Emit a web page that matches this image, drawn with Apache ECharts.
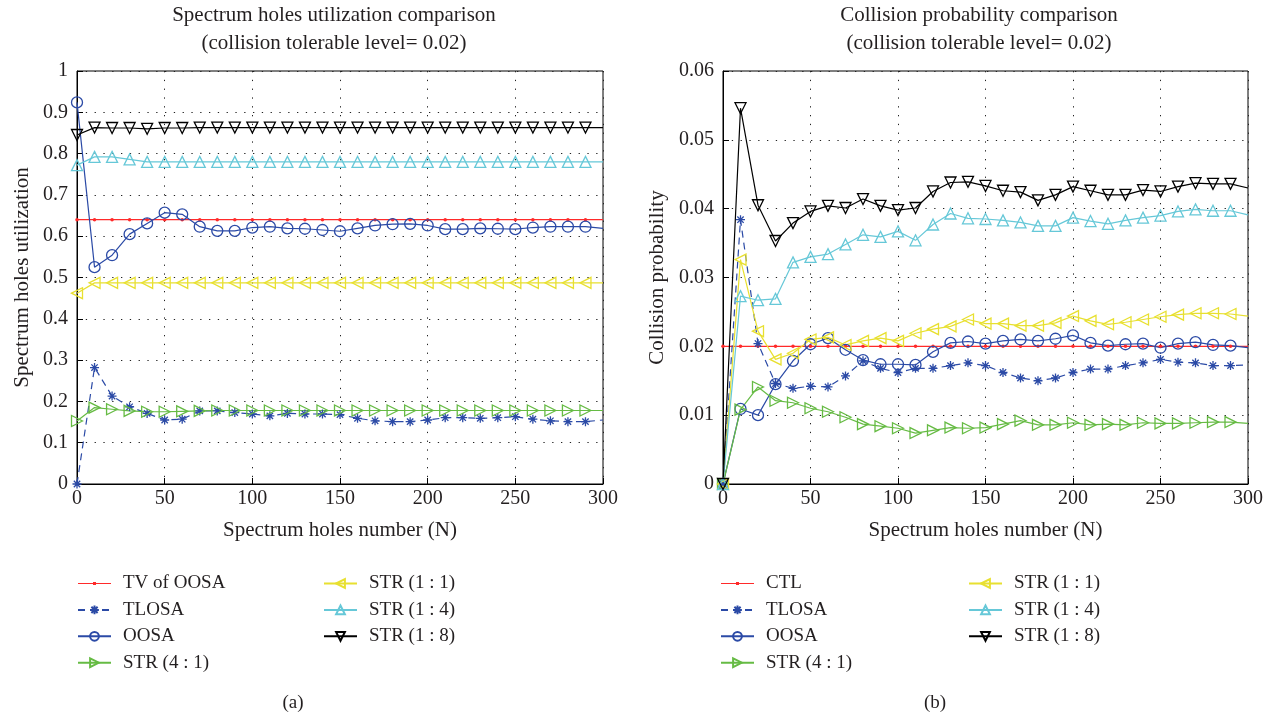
<!DOCTYPE html>
<html>
<head>
<meta charset="utf-8">
<script src="https://cdn.jsdelivr.net/npm/echarts@6/dist/echarts.min.js"></script>
<style>
html,body{margin:0;padding:0;background:#fff;}
#chart{width:1273px;height:717px;}
</style>
</head>
<body>
<div id="chart"></div>
<script>
// ---------- data ----------
const nValues = [0,10,20,30,40,50,60,70,80,90,100,110,120,130,140,150,160,170,180,190,200,210,220,230,240,250,260,270,280,290,300];
const xTicks = [0,50,100,150,200,250,300];

// (a) spectrum holes utilization
const utilTV = [0.64,0.64,0.64,0.64,0.64,0.64,0.64,0.64,0.64,0.64,0.64,0.64,0.64,0.64,0.64,0.64,0.64,0.64,0.64,0.64,0.64,0.64,0.64,0.64,0.64,0.64,0.64,0.64,0.64,0.64,0.64];
const utilTLOSA = [0,0.282,0.213,0.187,0.171,0.155,0.157,0.177,0.177,0.173,0.1695,0.165,0.171,0.1695,0.1695,0.168,0.159,0.153,0.151,0.151,0.155,0.1605,0.1605,0.159,0.1605,0.163,0.157,0.153,0.151,0.151,0.155];
const utilOOSA = [0.924,0.525,0.554,0.605,0.631,0.657,0.653,0.623,0.613,0.613,0.621,0.623,0.619,0.618,0.615,0.612,0.619,0.626,0.629,0.630,0.626,0.617,0.617,0.619,0.618,0.617,0.621,0.623,0.623,0.623,0.619];
const utilSTR41 = [0.1525,0.185,0.181,0.177,0.175,0.175,0.176,0.177,0.178,0.178,0.178,0.178,0.178,0.178,0.178,0.178,0.178,0.178,0.178,0.178,0.178,0.178,0.178,0.178,0.178,0.178,0.178,0.178,0.178,0.178,0.178];
const utilSTR11 = [0.462,0.487,0.487,0.487,0.487,0.487,0.487,0.487,0.487,0.487,0.487,0.487,0.487,0.487,0.487,0.487,0.487,0.487,0.487,0.487,0.487,0.487,0.487,0.487,0.487,0.487,0.487,0.487,0.487,0.487,0.487];
const utilSTR14 = [0.772,0.792,0.792,0.786,0.780,0.780,0.780,0.780,0.780,0.780,0.780,0.780,0.780,0.780,0.780,0.780,0.780,0.780,0.780,0.780,0.780,0.780,0.780,0.780,0.780,0.780,0.780,0.780,0.780,0.780,0.780];
const utilSTR18 = [0.845,0.863,0.862,0.862,0.860,0.862,0.862,0.863,0.863,0.863,0.863,0.863,0.863,0.863,0.863,0.863,0.863,0.863,0.863,0.863,0.863,0.863,0.863,0.863,0.863,0.863,0.863,0.863,0.863,0.863,0.863];

// (b) collision probability
const collCTL = [0.02,0.02,0.02,0.02,0.02,0.02,0.02,0.02,0.02,0.02,0.02,0.02,0.02,0.02,0.02,0.02,0.02,0.02,0.02,0.02,0.02,0.02,0.02,0.02,0.02,0.02,0.02,0.02,0.02,0.02,0.02];
const collTLOSA = [0,0.0384,0.0204,0.0146,0.0139,0.0142,0.0141,0.0157,0.0179,0.0168,0.0162,0.0168,0.0168,0.0172,0.0176,0.0172,0.0162,0.0154,0.0150,0.0154,0.0162,0.0167,0.0167,0.0172,0.0176,0.0181,0.0177,0.0176,0.0172,0.0172,0.0173];
const collOOSA = [0,0.0109,0.0100,0.0145,0.0179,0.0203,0.0212,0.0195,0.0180,0.0174,0.0174,0.0173,0.0192,0.0205,0.0207,0.0204,0.0208,0.0210,0.0208,0.0211,0.0216,0.0205,0.0201,0.0203,0.0204,0.0198,0.0204,0.0206,0.0202,0.0201,0.0198];
const collSTR41 = [0,0.0108,0.0141,0.0121,0.0118,0.0110,0.0105,0.0097,0.0087,0.0084,0.0081,0.0074,0.0078,0.0082,0.0081,0.0082,0.0087,0.0092,0.0086,0.0086,0.0089,0.0086,0.0087,0.0086,0.0089,0.0088,0.0088,0.0089,0.0090,0.0090,0.0088];
const collSTR11 = [0,0.0326,0.0222,0.0181,0.0190,0.0210,0.0213,0.0202,0.0208,0.0212,0.0208,0.0219,0.0225,0.0229,0.0239,0.0233,0.0233,0.0230,0.0230,0.0234,0.0244,0.0237,0.0232,0.0235,0.0239,0.0243,0.0246,0.0248,0.0248,0.0247,0.0244];
const collSTR14 = [0,0.0273,0.0267,0.0269,0.0322,0.0330,0.0334,0.0348,0.0362,0.0359,0.0367,0.0354,0.0377,0.0393,0.0386,0.0385,0.0383,0.0380,0.0375,0.0375,0.0387,0.0382,0.0378,0.0383,0.0387,0.0390,0.0396,0.0399,0.0397,0.0397,0.0391];
const collSTR18 = [0,0.0546,0.0405,0.0353,0.0379,0.0396,0.0404,0.0401,0.0414,0.0404,0.0398,0.0401,0.0425,0.0438,0.0439,0.0433,0.0426,0.0424,0.0412,0.0420,0.0432,0.0426,0.0420,0.0420,0.0427,0.0425,0.0432,0.0437,0.0436,0.0436,0.0430];

const namesA = ['TV of OOSA','TLOSA','OOSA','STR (4 : 1)','STR (1 : 1)','STR (1 : 4)','STR (1 : 8)'];
const namesB = ['CTL','TLOSA','OOSA','STR (4 : 1)','STR (1 : 1)','STR (1 : 4)','STR (1 : 8)'];

// ---------- styles ----------
const FONT = '"Liberation Serif", "DejaVu Serif", serif';
const TXT = '#231f20';
const ASTER = 'path://M0,-10L0,10M-10,0L10,0M-7.07,-7.07L7.07,7.07M-7.07,7.07L7.07,-7.07';
const DOT_LINE_ICON = 'path://M0,1L33,1L33,2L0,2ZM15,0L18,0L18,3L15,3Z';
const styles = [
  {color:'#ff2a2a', symbol:'circle', size:3.5, rot:0, fill:true, dash:'solid'},
  {color:'#2b4aa6', symbol:ASTER, size:9, rot:0, fill:false, dash:[7,5]},
  {color:'#2b4aa6', symbol:'circle', size:11, rot:0, fill:false, dash:'solid'},
  {color:'#66bb44', symbol:'triangle', size:11, rot:-90, fill:false, dash:'solid'},
  {color:'#e8e030', symbol:'triangle', size:11, rot:90, fill:false, dash:'solid'},
  {color:'#66c8d8', symbol:'triangle', size:11, rot:0, fill:false, dash:'solid'},
  {color:'#000000', symbol:'triangle', size:11, rot:180, fill:false, dash:'solid'}
];

function makeSeries(name, values, st, idx) {
  return {
    type:'line', name:name, xAxisIndex:idx, yAxisIndex:idx,
    data: nValues.map((n,i) => n === 300 ? {value:[n, values[i]], symbol:'none'} : [n, values[i]]),
    symbol: st.symbol, symbolSize: st.size, symbolRotate: st.rot,
    showSymbol:true, clip:false,
    lineStyle:{color:st.color, width:1.2, type:st.dash},
    itemStyle:{color: st.fill ? st.color : 'rgba(0,0,0,0)', borderColor: st.color, borderWidth: st.fill ? 0 : 1.3},
    emphasis:{disabled:true},
    z: 2
  };
}

const seriesA = [utilTV, utilTLOSA, utilOOSA, utilSTR41, utilSTR11, utilSTR14, utilSTR18];
const seriesB = [collCTL, collTLOSA, collOOSA, collSTR41, collSTR11, collSTR14, collSTR18];

const series = [];
seriesA.forEach((v,i) => series.push(makeSeries(namesA[i], v, styles[i], 0)));
seriesB.forEach((v,i) => series.push(makeSeries(namesB[i], v, styles[i], 1)));

function xAxisCfg(idx) {
  return {
    gridIndex: idx, type:'value', min:0, max:300, interval:50,
    name:'Spectrum holes number (N)', nameLocation:'middle', nameGap:36,
    nameTextStyle:{fontFamily:FONT, fontSize:21, color:TXT},
    axisLine:{show:true, onZero:false, lineStyle:{color:'#000', width:1}},
    axisTick:{show:true, inside:true, length:6, lineStyle:{color:'#000'}},
    axisLabel:{fontFamily:FONT, fontSize:20, color:TXT, margin:5},
    splitLine:{show:true, lineStyle:{color:'#222', width:1, type:[1.3,7.5]}}
  };
}
function yAxisCfg(idx, name, max, interval, gap) {
  return {
    gridIndex: idx, type:'value', min:0, max:max, interval:interval,
    name:name, nameLocation:'middle', nameGap:gap,
    nameTextStyle:{fontFamily:FONT, fontSize:21, color:TXT},
    axisLine:{show:true, onZero:false, lineStyle:{color:'#000', width:1}},
    axisTick:{show:true, inside:true, length:6, lineStyle:{color:'#000'}},
    axisLabel:{fontFamily:FONT, fontSize:20, color:TXT, margin:9},
    splitLine:{show:true, lineStyle:{color:'#222', width:1, type:[1.3,7.5]}}
  };
}

function legendCfg(data, left) {
  return {
    data:data.map(n => (n === 'TV of OOSA' || n === 'CTL') ? {name:n, icon:DOT_LINE_ICON} : n),
    left:left, top:574, orient:'vertical', padding:0,
    itemWidth:33, itemHeight:11, itemGap:7.4,
    textStyle:{fontFamily:FONT, fontSize:19, color:TXT, lineHeight:19, padding:[0,0,0,7]},
    selectedMode:false
  };
}

const option = {
  animation:false,
  backgroundColor:'#fff',
  grid:[
    {left:77, top:71, width:526, height:413, show:true, borderColor:'#000', borderWidth:1, backgroundColor:'transparent'},
    {left:723, top:71, width:525, height:413, show:true, borderColor:'#000', borderWidth:1, backgroundColor:'transparent'}
  ],
  xAxis:[xAxisCfg(0), xAxisCfg(1)],
  yAxis:[
    yAxisCfg(0, 'Spectrum holes utilization', 1, 0.1, 44),
    yAxisCfg(1, 'Collision probability', 0.06, 0.01, 55)
  ],
  legend:[
    legendCfg(namesA.slice(0,4), 77),
    legendCfg(namesA.slice(4), 323),
    legendCfg(namesB.slice(0,4), 720),
    legendCfg(namesB.slice(4), 968)
  ],
  graphic:[
    {type:'text', x:334, y:15, style:{text:'Spectrum holes utilization comparison', font:'21px ' + FONT, fill:TXT, align:'center', verticalAlign:'middle'}},
    {type:'text', x:334, y:43, style:{text:'(collision tolerable level= 0.02)', font:'21px ' + FONT, fill:TXT, align:'center', verticalAlign:'middle'}},
    {type:'text', x:979, y:15, style:{text:'Collision probability comparison', font:'21px ' + FONT, fill:TXT, align:'center', verticalAlign:'middle'}},
    {type:'text', x:979, y:43, style:{text:'(collision tolerable level= 0.02)', font:'21px ' + FONT, fill:TXT, align:'center', verticalAlign:'middle'}},
    {type:'text', x:293, y:703, style:{text:'(a)', font:'19px ' + FONT, fill:TXT, align:'center', verticalAlign:'middle'}},
    {type:'text', x:935, y:703, style:{text:'(b)', font:'19px ' + FONT, fill:TXT, align:'center', verticalAlign:'middle'}}
  ],
  series: series
};

const chart = echarts.init(document.getElementById('chart'), null, {renderer:'canvas'});
chart.setOption(option);
</script>
</body>
</html>
